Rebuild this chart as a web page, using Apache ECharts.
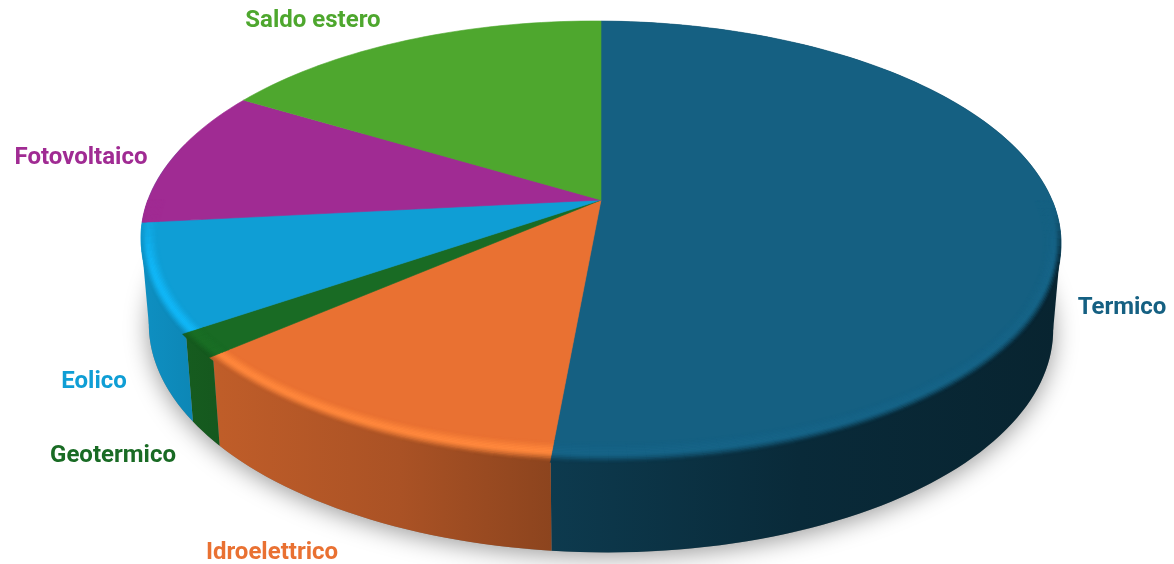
<!DOCTYPE html>
<html lang="it">
<head>
<meta charset="utf-8">
<title>Produzione elettrica per fonte</title>
<style>
  html, body { margin: 0; padding: 0; background: #ffffff; }
  #chart { width: 1174px; height: 564px; }
</style>
<script src="https://cdn.jsdelivr.net/npm/echarts@6/dist/echarts.min.js"></script>
</head>
<body>
<div id="chart"></div>
<script>
// Shares in percent, clockwise from twelve o'clock.
const categories = ['Termico', 'Idroelettrico', 'Geotermico', 'Eolico', 'Fotovoltaico', 'Saldo estero'];
const shares = [51.45, 12.15, 1.75, 7.8, 10.25, 16.6];
const colors = ['#156082', '#E97132', '#196B24', '#0F9ED5', '#A02B93', '#4EA72E'];

// Brightness of the rounded rim on each slice.
const rimGain = [1.04, 1.2, 1.03, 1.16, 1, 1];
// Label centres, in the same order as the categories.
const labelAt = [[1122, 308], [272, 553], [113, 456], [94, 382], [81, 158], [313, 21]];

// Perspective disc: the hub sits above the centre of the projected ellipse.
const hub = { x: 601, y: 200 };
const tilt = 0.1845;
const roll = 0.006;
const radiusX = 452.1;
const radiusY = 212;
// The lower face of the disc is the upper face shifted down and slightly reshaped.
const lower = { dy: 85.4, sx: 0.983, sy: 1.027 };
// Darkening of the wall from left to right.
const wallShade = [[150, 0.9], [220, 0.82], [400, 0.73], [552, 0.6], [800, 0.44], [1060, 0.37]];

const total = shares.reduce((a, b) => a + b, 0);
const startAngle = i => shares.slice(0, i).reduce((a, b) => a + b, 0) / total * 360;
const endAngle = i => startAngle(i + 1);
// Angles at which the projected disc is widest: the wall outline runs straight from there.
const widest = Math.asin(tilt) * 180 / Math.PI;
const outlineAngles = [90 + widest, 270 - widest];

function project(deg, onLower) {
  const t = deg * Math.PI / 180;
  const X = Math.sin(t), Y = -Math.cos(t);
  const w = 1 - tilt * Y;
  const px = radiusX * X / w, py = radiusY * Y / w;
  return onLower
    ? [hub.x + px * lower.sx, hub.y + lower.dy + py * lower.sy + px * roll]
    : [hub.x + px, hub.y + py + px * roll];
}
function arc(from, to, onLower) {
  const n = Math.max(2, Math.ceil((to - from) / 1.5));
  const pts = [];
  for (let i = 0; i <= n; i++) pts.push(project(from + (to - from) * i / n, onLower));
  return pts;
}
function rgb(hex) {
  return [1, 3, 5].map(i => parseInt(hex.slice(i, i + 2), 16));
}
const scale = (c, f) => c.map(v => Math.min(255, v * f));
const mix = (a, b, t) => a.map((v, i) => v + (b[i] - v) * t);
const css = c => 'rgb(' + c.map(v => Math.round(v)).join(',') + ')';
function shadeAt(x) {
  if (x <= wallShade[0][0]) return wallShade[0][1];
  for (let i = 1; i < wallShade.length; i++) {
    if (x <= wallShade[i][0]) {
      const [x0, f0] = wallShade[i - 1], [x1, f1] = wallShade[i];
      return f0 + (f1 - f0) * (x - x0) / (x1 - x0);
    }
  }
  return wallShade[wallShade.length - 1][1];
}
const smooth = (a, b, v) => {
  const t = Math.max(0, Math.min(1, (v - a) / (b - a)));
  return t * t * (3 - 2 * t);
};
// Point on the upper rim moved d pixels towards the hub.
function inset(p, d) {
  const dx = hub.x - p[0], dy = hub.y - p[1];
  const len = Math.hypot(dx, dy);
  return [p[0] + dx / len * d, p[1] + dy / len * d];
}

function renderShadow(params) {
  if (params.dataIndex !== 0) return { type: 'group', children: [] };
  return {
    type: 'polygon',
    shape: { points: arc(0, 360, true) },
    style: { fill: '#888888', shadowBlur: 24, shadowColor: 'rgba(0,0,0,0.4)', shadowOffsetY: 4 }
  };
}
function renderWall(params) {
  const i = params.dataIndex;
  const from = startAngle(i);
  if (from >= 250) return { type: 'group', children: [] };
  // The last wall on the left runs on behind the rim to close the outline.
  const to = startAngle(i + 1) >= 250 ? 285 : endAngle(i);
  const base = rgb(colors[i]);
  const first = wallShade[0][0], last = wallShade[wallShade.length - 1][0];
  const stops = wallShade.map(([x, f]) => ({ offset: (x - first) / (last - first), color: css(scale(base, f)) }));
  const fill = new echarts.graphic.LinearGradient(first, 0, last, 0, stops, true);
  const children = [{
    type: 'polygon',
    shape: { points: arc(from, to, false).concat(arc(from, to, true).reverse()) },
    style: { fill }
  }];
  outlineAngles.filter(a => a >= from && a <= to).forEach(a => {
    children.push({
      type: 'polygon',
      shape: { points: [project(a, false), project(a, true), [hub.x, hub.y]] },
      style: { fill }
    });
  });
  return { type: 'group', children };
}
function renderFace(params) {
  const i = params.dataIndex;
  return {
    type: 'polygon',
    shape: { points: [[hub.x, hub.y]].concat(arc(startAngle(i), endAngle(i), false)) },
    style: { fill: colors[i], stroke: colors[i], lineWidth: 0.6 }
  };
}
function renderRim(params) {
  const i = params.dataIndex;
  const from = startAngle(i), to = endAngle(i);
  const base = rgb(colors[i]);
  const children = [];
  const steps = Math.max(2, Math.ceil((to - from) / 2));
  const levels = 14, bandDepth = 18, spill = 4;
  const frontOf = a => -Math.cos(a * Math.PI / 180);
  // The band spreads a little over the wall where the wall faces the viewer.
  const reach = (a, k) => {
    const out = spill * smooth(0.2, 0.6, frontOf(a));
    return -out + (bandDepth + out) * k / levels;
  };
  for (let s = 0; s < steps; s++) {
    const a0 = from + (to - from) * s / steps, a1 = from + (to - from) * (s + 1) / steps;
    const mid = (a0 + a1) / 2;
    const front = smooth(0, 0.35, frontOf(mid));
    if (front <= 0) continue;
    const p0 = project(a0, false), p1 = project(a1, false);
    const wall = scale(base, shadeAt((p0[0] + p1[0]) / 2));
    const lit = scale(base, rimGain[i]);
    const start = reach(mid, 0);
    for (let k = 0; k < levels; k++) {
      const c = reach(mid, k + 0.5);
      const col = css(mix(base, c < 7 ? mix(wall, lit, smooth(start, 7, c)) : mix(lit, base, smooth(7, 18, c)), front));
      children.push({
        type: 'polygon',
        shape: {
          points: [
            inset(p0, reach(a0, k)), inset(p1, reach(a1, k)),
            inset(p1, reach(a1, k + 1)), inset(p0, reach(a0, k + 1))
          ]
        },
        style: { fill: col, stroke: col, lineWidth: 0.5 }
      });
    }
  }
  return { type: 'group', children };
}
function renderLabel(params) {
  const i = params.dataIndex;
  return {
    type: 'text',
    style: {
      text: categories[i],
      x: labelAt[i][0],
      y: labelAt[i][1],
      fill: colors[i],
      font: '700 24px Roboto, sans-serif',
      align: 'center',
      verticalAlign: 'middle'
    }
  };
}

const layer = (renderItem, z) => ({
  type: 'custom',
  coordinateSystem: 'none',
  data: shares,
  renderItem,
  z,
  silent: true,
  animation: false,
  clip: false
});

const chart = echarts.init(document.getElementById('chart'), null, { width: 1174, height: 564 });
chart.setOption({
  backgroundColor: '#ffffff',
  animation: false,
  series: [
    layer(renderShadow, 1),
    layer(renderWall, 2),
    layer(renderFace, 3),
    layer(renderRim, 4),
    layer(renderLabel, 5)
  ]
});
</script>
</body>
</html>
